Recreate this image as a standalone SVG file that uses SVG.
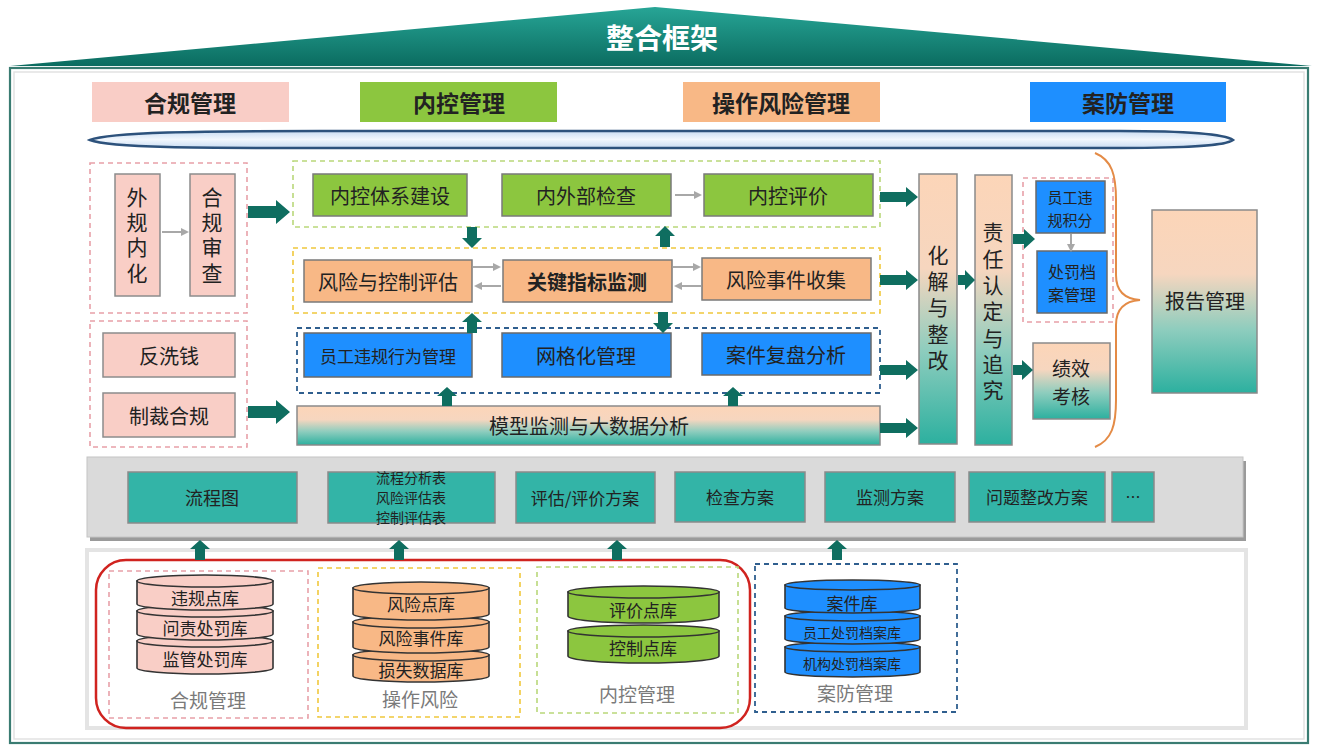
<svg xmlns="http://www.w3.org/2000/svg" width="1320" height="756" viewBox="0 0 1320 756">
<style>
.t{font-family:"Noto Sans CJK SC","Noto Sans",sans-serif;fill:#222;text-anchor:middle;dominant-baseline:central}
.v{writing-mode:vertical-rl}
.b{font-weight:bold}
.pk{fill:#f9cec6;stroke:#8c8c8c;stroke-width:1.5}
.gn{fill:#8cc63f;stroke:#7a7a7a;stroke-width:1.5}
.or{fill:#f8b886;stroke:#7a7a7a;stroke-width:1.5}
.bl{fill:#1e8fff;stroke:#6a6a6a;stroke-width:1.5}
.tl{fill:#33b4a7;stroke:#8a8a8a;stroke-width:1.5}
.gd{fill:url(#pt);stroke:#8a8a8a;stroke-width:1.5}
.dp{fill:none;stroke:#e8a0a8;stroke-width:1.6;stroke-dasharray:5 4}
.dg{fill:none;stroke:#b9d77a;stroke-width:1.6;stroke-dasharray:5 4}
.dy{fill:none;stroke:#f0c83c;stroke-width:1.6;stroke-dasharray:5 4}
.db{fill:none;stroke:#2f5f8f;stroke-width:1.8;stroke-dasharray:5 4}
.ba{fill:#0f6e60}
.ga{fill:none;stroke:#a8a8a8;stroke-width:2;marker-end:url(#gh)}
.cy{stroke:#333;stroke-width:1.6}
.lb{font-family:"Noto Sans CJK SC","Noto Sans",sans-serif;fill:#7a7a7a;text-anchor:middle;dominant-baseline:central;font-size:19px}
</style>
<defs>
<linearGradient id="pt" x1="0" y1="0" x2="0" y2="1">
<stop offset="0" stop-color="#fcd5b8"/>
<stop offset="0.35" stop-color="#f6d6bf"/>
<stop offset="0.65" stop-color="#8fcdbe"/>
<stop offset="1" stop-color="#2cb09f"/>
</linearGradient>
<linearGradient id="tri" x1="0" y1="0" x2="0" y2="1">
<stop offset="0" stop-color="#27a596"/>
<stop offset="1" stop-color="#0b6c60"/>
</linearGradient>
<linearGradient id="lens" x1="0" y1="0" x2="0" y2="1">
<stop offset="0" stop-color="#c9dcf2"/>
<stop offset="0.5" stop-color="#f2f7fd"/>
<stop offset="1" stop-color="#c9dcf2"/>
</linearGradient>
<marker id="gh" markerWidth="8" markerHeight="8" refX="6" refY="4" orient="auto" markerUnits="userSpaceOnUse">
<path d="M0,0 L8,4 L0,8 Z" fill="#a8a8a8"/>
</marker>
</defs>

<rect width="1320" height="756" fill="#ffffff"/>

<g id="title">
<polygon points="10,66 655,7 1312,66" fill="url(#tri)"/>
<text class="t b" x="662" y="37" font-size="28" style="fill:#fff">整合框架</text>
</g>

<g id="frame">
<rect x="10" y="68" width="1298" height="675" fill="#ffffff" stroke="#3a7c72" stroke-width="2.2"/>
<rect x="14" y="72" width="1290" height="667" fill="none" stroke="#e2e2e2" stroke-width="1.5"/>
</g>

<g id="categories">
<rect x="92" y="82" width="197" height="40" fill="#f9cdc6"/>
<text class="t b" x="190" y="102" font-size="23">合规管理</text>
<rect x="360" y="82" width="197" height="40" fill="#8cc63f"/>
<text class="t b" x="459" y="102" font-size="23">内控管理</text>
<rect x="683" y="82" width="197" height="40" fill="#f8b886"/>
<text class="t b" x="781" y="102" font-size="23">操作风险管理</text>
<rect x="1030" y="82" width="196" height="40" fill="#1e8fff"/>
<text class="t b" x="1128" y="102" font-size="23">案防管理</text>
</g>

<g id="lens-bar">
<path d="M90,140 C110,132 200,131 320,131 L1120,131 C1200,131 1226,135 1233,140 C1226,145 1200,148 1120,148 L320,148 C200,148 110,148 90,140 Z" fill="url(#lens)" stroke="#2d527c" stroke-width="2.5"/>
</g>

<g id="compliance-group">
<rect class="dp" x="90" y="163" width="157" height="150"/>
<g id="n-waigui"><rect class="pk" x="115" y="174" width="45" height="122"/>
<text class="t v" x="137" y="237" font-size="21" letter-spacing="4.3">外规内化</text></g>
<g id="n-hegui"><rect class="pk" x="190" y="174" width="45" height="122"/>
<text class="t v" x="212" y="237" font-size="21" letter-spacing="4.3">合规审查</text></g>
</g>

<g id="aml-group">
<rect class="dp" x="90" y="321" width="157" height="126"/>
<g id="n-fanxiqian"><rect class="pk" x="103" y="333" width="132" height="44"/>
<text class="t" x="169" y="355" font-size="20">反洗钱</text></g>
<g id="n-zhicai"><rect class="pk" x="103" y="393" width="132" height="44"/>
<text class="t" x="169" y="415" font-size="20">制裁合规</text></g>
</g>

<g id="ic-group">
<rect class="dg" x="293" y="161" width="587" height="66"/>
<g id="n-neikongtixi"><rect class="gn" x="313" y="174" width="154" height="42"/>
<text class="t" x="390" y="195" font-size="20">内控体系建设</text></g>
<g id="n-neiwaibu"><rect class="gn" x="502" y="174" width="169" height="42"/>
<text class="t" x="586" y="195" font-size="20">内外部检查</text></g>
<g id="n-neikongpingjia"><rect class="gn" x="704" y="174" width="169" height="42"/>
<text class="t" x="788" y="195" font-size="20">内控评价</text></g>
</g>

<g id="or-group">
<rect class="dy" x="293" y="248" width="587" height="65"/>
<g id="n-rcsa"><rect class="or" x="304" y="260" width="168" height="42"/>
<text class="t" x="388" y="281" font-size="20">风险与控制评估</text></g>
<g id="n-kri"><rect class="or" x="503" y="260" width="169" height="42"/>
<text class="t b" x="587" y="281" font-size="20">关键指标监测</text></g>
<g id="n-event"><rect class="or" x="702" y="258" width="169" height="42"/>
<text class="t" x="786" y="279" font-size="20">风险事件收集</text></g>
</g>

<g id="case-group">
<rect class="db" x="297" y="328" width="583" height="65"/>
<g id="n-yuangong"><rect class="bl" x="304" y="333" width="168" height="44"/>
<text class="t" x="388" y="355" font-size="17">员工违规行为管理</text></g>
<g id="n-wangge"><rect class="bl" x="502" y="333" width="169" height="44"/>
<text class="t" x="586" y="355" font-size="20">网格化管理</text></g>
<g id="n-anjian"><rect class="bl" x="702" y="333" width="169" height="42"/>
<text class="t" x="786" y="354" font-size="20">案件复盘分析</text></g>
</g>

<g id="n-model">
<rect class="gd" x="297" y="406" width="583" height="39"/>
<text class="t" x="589" y="425" font-size="20">模型监测与大数据分析</text>
</g>

<g id="n-huajie">
<rect class="gd" x="919" y="174" width="38" height="270"/>
<text class="t v" x="938" y="310" font-size="21" letter-spacing="5.2">化解与整改</text>
</g>

<g id="n-zeren">
<rect class="gd" x="975" y="175" width="37" height="270"/>
<text class="t v" x="993" y="314" font-size="21" letter-spacing="5.3">责任认定与追究</text>
</g>

<g id="penalty-group">
<rect class="dp" x="1023" y="178" width="90" height="144"/>
<g id="n-jifen"><rect class="bl" x="1036" y="181" width="69" height="52"/>
<text class="t" font-size="15"><tspan x="1070" y="196">员工违</tspan><tspan x="1070" y="219">规积分</tspan></text></g>
<g id="n-dangan"><rect class="bl" x="1037" y="251" width="70" height="62"/>
<text class="t" font-size="16"><tspan x="1072" y="271">处罚档</tspan><tspan x="1072" y="294">案管理</tspan></text></g>
</g>

<g id="n-jixiao">
<rect class="gd" x="1033" y="343" width="77" height="76"/>
<text class="t" font-size="19"><tspan x="1071" y="367">绩效</tspan><tspan x="1071" y="395">考核</tspan></text>
</g>

<g id="brace">
<path d="M1095,153 C1112,160 1116,175 1116,200 L1116,275 C1116,292 1126,299 1140,300 C1126,301 1116,308 1116,325 L1116,400 C1116,425 1112,440 1095,447" fill="none" stroke="#e48b46" stroke-width="2"/>
</g>

<g id="n-baogao">
<rect class="gd" x="1152" y="210" width="105" height="183"/>
<text class="t" x="1205" y="300" font-size="20">报告管理</text>
</g>

<g id="tools-band">
<rect x="90" y="461" width="1156" height="80" fill="#9a9a9a"/>
<rect x="87" y="457" width="1156" height="80" fill="#dadada" stroke="#c4c4c4" stroke-width="1"/>
<g id="n-liucheng"><rect class="tl" x="128" y="472" width="169" height="51"/>
<text class="t" x="212" y="497" font-size="18">流程图</text></g>
<g id="n-biao"><rect class="tl" x="328" y="472" width="167" height="51"/>
<text class="t" font-size="14"><tspan x="411" y="477">流程分析表</tspan><tspan x="411" y="497">风险评估表</tspan><tspan x="411" y="517">控制评估表</tspan></text></g>
<g id="n-pinggu"><rect class="tl" x="516" y="472" width="139" height="51"/>
<text class="t" x="585" y="497" font-size="17">评估/评价方案</text></g>
<g id="n-jiancha"><rect class="tl" x="675" y="472" width="130" height="50"/>
<text class="t" x="740" y="496" font-size="17">检查方案</text></g>
<g id="n-jiance"><rect class="tl" x="825" y="472" width="130" height="50"/>
<text class="t" x="890" y="496" font-size="17">监测方案</text></g>
<g id="n-zhenggai"><rect class="tl" x="969" y="472" width="136" height="50"/>
<text class="t" x="1037" y="496" font-size="17">问题整改方案</text></g>
<g id="n-more"><rect class="tl" x="1112" y="472" width="42" height="50"/>
<text class="t" x="1133" y="496" font-size="15">…</text></g>
</g>

<g id="db-area">
<rect x="87" y="550" width="1159" height="178" fill="#ffffff" stroke="#e4e4e4" stroke-width="4"/>
<rect x="96" y="560" width="654" height="168" rx="30" fill="none" stroke="#d0231f" stroke-width="2.5"/>
</g>

<g id="db-compliance">
<rect class="dp" x="109" y="571" width="199" height="147"/>
<path class="cy" fill="#f9cec6" d="M137,641 L137,668 A68,6 0 0 0 273,668 L273,641 Z"/><ellipse class="cy" fill="#f9cec6" cx="205" cy="641" rx="68" ry="6"/>
<path class="cy" fill="#f9cec6" d="M137,611 L137,634 A68,6 0 0 0 273,634 L273,611 Z"/><ellipse class="cy" fill="#f9cec6" cx="205" cy="611" rx="68" ry="6"/>
<path class="cy" fill="#f9cec6" d="M137,581 L137,604 A68,6 0 0 0 273,604 L273,581 Z"/><ellipse class="cy" fill="#f9cec6" cx="205" cy="581" rx="68" ry="6"/>
<text class="t" x="205" y="597" font-size="17">违规点库</text>
<text class="t" x="205" y="627" font-size="17">问责处罚库</text>
<text class="t" x="205" y="658" font-size="17">监管处罚库</text>
<text class="lb" x="208" y="699">合规管理</text>
</g>

<g id="db-oprisk">
<rect class="dy" x="318" y="568" width="202" height="149"/>
<path class="cy" fill="#f8b886" d="M353,655 L353,676 A68,6 0 0 0 489,676 L489,655 Z"/><ellipse class="cy" fill="#f8b886" cx="421" cy="655" rx="68" ry="6"/>
<path class="cy" fill="#f8b886" d="M353,622 L353,647 A68,6 0 0 0 489,647 L489,622 Z"/><ellipse class="cy" fill="#f8b886" cx="421" cy="622" rx="68" ry="6"/>
<path class="cy" fill="#f8b886" d="M353,588 L353,614 A68,6 0 0 0 489,614 L489,588 Z"/><ellipse class="cy" fill="#f8b886" cx="421" cy="588" rx="68" ry="6"/>
<text class="t" x="421" y="603" font-size="17">风险点库</text>
<text class="t" x="421" y="637" font-size="17">风险事件库</text>
<text class="t" x="421" y="669" font-size="17">损失数据库</text>
<text class="lb" x="420" y="698">操作风险</text>
</g>

<g id="db-ic">
<rect class="dg" x="537" y="567" width="201" height="146"/>
<path class="cy" fill="#8cc63f" d="M568,631 L568,656 A75.5,7 0 0 0 719,656 L719,631 Z"/><ellipse class="cy" fill="#8cc63f" cx="643.5" cy="631" rx="75.5" ry="6"/>
<path class="cy" fill="#8cc63f" d="M568,592 L568,616 A75.5,7 0 0 0 719,616 L719,592 Z"/><ellipse class="cy" fill="#8cc63f" cx="643.5" cy="592" rx="75.5" ry="6"/>
<text class="t" x="643" y="609" font-size="17">评价点库</text>
<text class="t" x="643" y="647" font-size="17">控制点库</text>
<text class="lb" x="637" y="693">内控管理</text>
</g>

<g id="db-case">
<rect class="db" x="755" y="564" width="202" height="148"/>
<path class="cy" fill="#1e8fff" d="M785,647 L785,672 A67.5,5 0 0 0 920,672 L920,647 Z"/><ellipse class="cy" fill="#1e8fff" cx="852.5" cy="647" rx="67.5" ry="5"/>
<path class="cy" fill="#1e8fff" d="M785,616 L785,639 A67.5,5 0 0 0 920,639 L920,616 Z"/><ellipse class="cy" fill="#1e8fff" cx="852.5" cy="616" rx="67.5" ry="5"/>
<path class="cy" fill="#1e8fff" d="M785,585 L785,608 A67.5,5 0 0 0 920,608 L920,585 Z"/><ellipse class="cy" fill="#1e8fff" cx="852.5" cy="585" rx="67.5" ry="5"/>
<text class="t" x="852" y="602" font-size="17">案件库</text>
<text class="t" x="852" y="632" font-size="14">员工处罚档案库</text>
<text class="t" x="852" y="663" font-size="14">机构处罚档案库</text>
<text class="lb" x="855" y="692">案防管理</text>
</g>

<g id="connectors">
<line class="ga" x1="162" y1="232" x2="187" y2="232"/>
<line class="ga" x1="675" y1="195" x2="700" y2="195"/>
<line class="ga" x1="473" y1="267" x2="499" y2="267"/>
<line class="ga" x1="501" y1="286" x2="476" y2="286"/>
<line class="ga" x1="673" y1="267" x2="699" y2="267"/>
<line class="ga" x1="701" y1="286" x2="676" y2="286"/>
<line class="ga" x1="1071" y1="234" x2="1071" y2="250"/>
<path class="ba" d="M248,206 L276,206 L276,200 L290,212 L276,224 L276,218 L248,218 Z"/>
<path class="ba" d="M248,406 L276,406 L276,400 L290,412 L276,424 L276,418 L248,418 Z"/>
<path class="ba" d="M880,192 L906,192 L906,187 L918,197 L906,207 L906,202 L880,202 Z"/>
<path class="ba" d="M880,275 L906,275 L906,270 L918,280 L906,290 L906,285 L880,285 Z"/>
<path class="ba" d="M880,365 L906,365 L906,360 L918,370 L906,380 L906,375 L880,375 Z"/>
<path class="ba" d="M880,423 L906,423 L906,418 L918,428 L906,438 L906,433 L880,433 Z"/>
<path class="ba" d="M958,275 L965,275 L965,270 L975,280 L965,290 L965,285 L958,285 Z"/>
<path class="ba" d="M1013,234 L1024,234 L1024,229 L1035,239 L1024,249 L1024,244 L1013,244 Z"/>
<path class="ba" d="M1013,365 L1022,365 L1022,360 L1033,370 L1022,380 L1022,375 L1013,375 Z"/>
<path class="ba" d="M467,227 L467,238 L462,238 L472,248 L482,238 L477,238 L477,227 Z"/>
<path class="ba" d="M660,247 L660,236 L655,236 L665,226 L675,236 L670,236 L670,247 Z"/>
<path class="ba" d="M467,333 L467,322 L462,322 L472,313 L482,322 L477,322 L477,333 Z"/>
<path class="ba" d="M658,312 L658,323 L653,323 L663,333 L673,323 L668,323 L668,312 Z"/>
<path class="ba" d="M442,406 L442,396 L437,396 L447,387 L457,396 L452,396 L452,406 Z"/>
<path class="ba" d="M728,406 L728,396 L723,396 L733,387 L743,396 L738,396 L738,406 Z"/>
<path class="ba" d="M195,560 L195,549 L190,549 L200,540 L210,549 L205,549 L205,560 Z"/>
<path class="ba" d="M394,560 L394,549 L389,549 L399,540 L409,549 L404,549 L404,560 Z"/>
<path class="ba" d="M612,560 L612,549 L607,549 L617,540 L627,549 L622,549 L622,560 Z"/>
<path class="ba" d="M832,560 L832,549 L827,549 L837,540 L847,549 L842,549 L842,560 Z"/>
</g>
</svg>
